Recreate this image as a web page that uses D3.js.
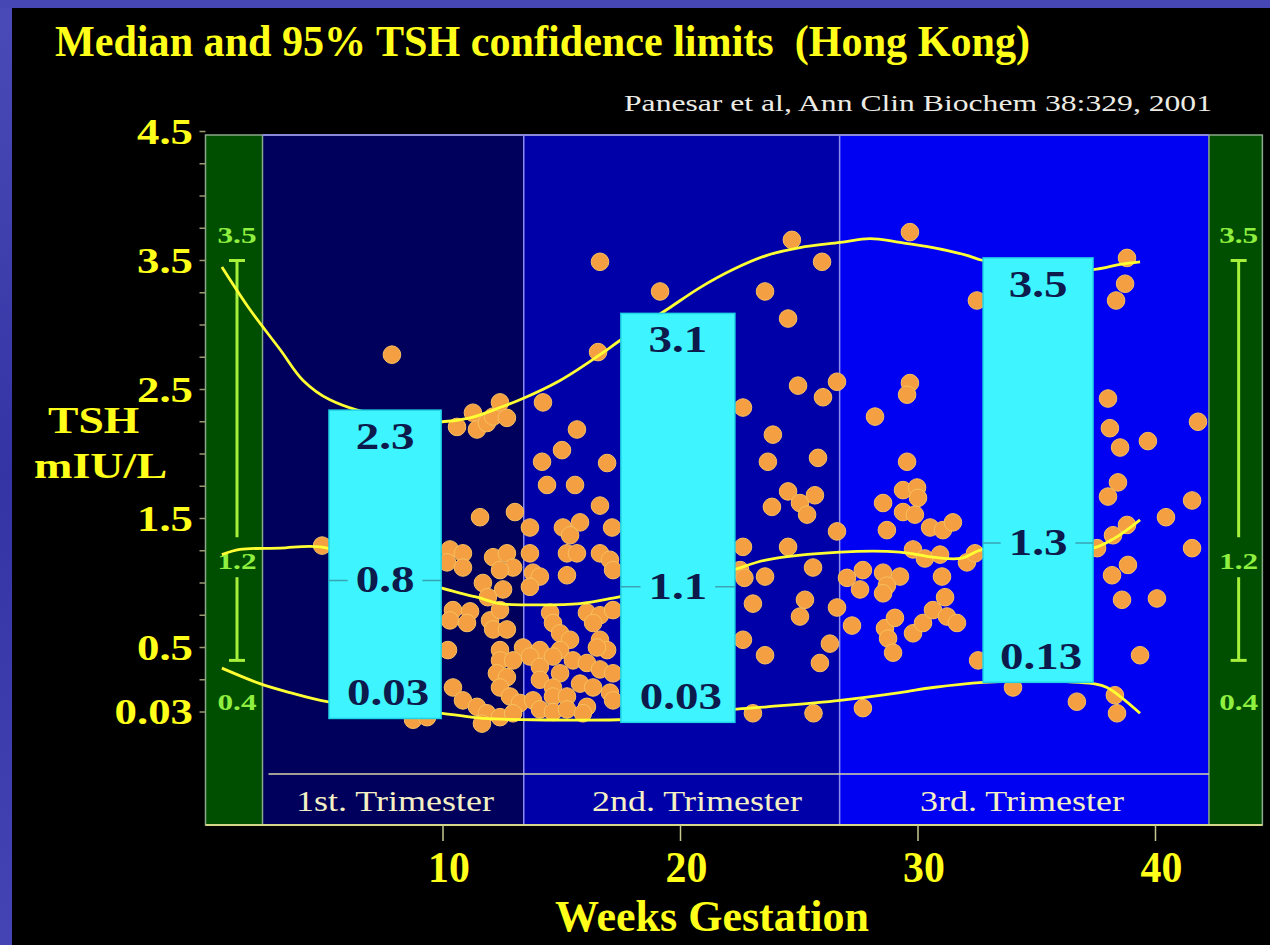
<!DOCTYPE html>
<html><head><meta charset="utf-8">
<script src="https://cdn.jsdelivr.net/npm/d3@7"></script>
<style>html,body{margin:0;padding:0;background:#000;} svg{display:block}</style>
</head><body>
<svg id="c" width="1270" height="945"></svg>
<script>
// ---------------- data ----------------
const titleText = "Median and 95% TSH confidence limits  (Hong Kong)";
const citationText = "Panesar et al, Ann Clin Biochem 38:329, 2001";
const yAxisTitle = ["TSH", "mIU/L"];
const xAxisTitle = "Weeks Gestation";
const yTickValues = [4.5, 3.5, 2.5, 1.5, 0.5, 0];
const yTickLabels = ["4.5", "3.5", "2.5", "1.5", "0.5", "0.03"];
const yMinorStep = 0.25;
const xTickValues = [10, 20, 30, 40];
const trimesterNames = ["1st. Trimester", "2nd. Trimester", "3rd. Trimester"];
const trimesterBounds = [2.4, 13.4, 26.7, 42.25];
const sideBarWeeks = [[0, 2.4], [42.25, 44.5]];
const refRange = [0.4, 1.2, 3.5];           // lower, median, upper (side bars)
const refLabels = ["0.4", "1.2", "3.5"];
const boxWeeks = [[5.2, 9.92], [17.49, 22.29], [32.74, 37.37]];
const boxLow = [-0.05, -0.08, 0.23];
const boxMid = [1.02, 0.97, 1.31];
const boxHigh = [2.34, 3.09, 3.52];
const boxLowLabel = ["0.03", "0.03", "0.13"];
const boxMidLabel = ["0.8", "1.1", "1.3"];
const boxHighLabel = ["2.3", "3.1", "3.5"];

const upperCurve = [[0.69,3.45],[1.87,3.12],[3.14,2.81],[4.11,2.57],[5.24,2.42],[7.77,2.28],[9.96,2.25],[11.14,2.28],[12.40,2.36],[13.24,2.42],[14.93,2.57],[16.61,2.77],[17.45,2.88],[19.43,3.12],[20.82,3.29],[22.21,3.43],[23.64,3.54],[25.03,3.60],[26.72,3.64],[27.98,3.67],[29.24,3.64],[30.63,3.60],[32.06,3.54],[32.74,3.50],[35.14,3.46],[37.37,3.43],[38.51,3.47],[39.35,3.49]];
const medianCurve = [[0.69,1.22],[1.45,1.26],[3.14,1.27],[4.82,1.28],[7.35,1.14],[9.96,0.96],[11.43,0.89],[12.40,0.84],[13.79,0.83],[15.77,0.84],[17.37,0.89],[19.98,0.98],[22.21,1.10],[23.64,1.18],[26.72,1.24],[29.24,1.24],[30.63,1.20],[31.79,1.19],[32.74,1.26],[35.14,1.26],[37.37,1.27],[38.30,1.35],[39.35,1.49]];
const lowerCurve = [[0.69,0.34],[2.29,0.22],[3.56,0.15],[5.12,0.08],[7.77,0.02],[9.96,-0.01],[11.68,-0.05],[13.79,-0.06],[17.37,-0.06],[19.98,-0.04],[22.21,0.02],[23.64,0.04],[26.72,0.09],[29.24,0.15],[30.63,0.19],[32.74,0.23],[35.14,0.24],[37.37,0.22],[37.96,0.19],[39.35,-0.01]];

const points = [
[4.91,1.29],[7.85,2.77],[8.74,-0.06],[9.33,-0.04],
[10.59,2.21],[11.26,2.32],[11.43,2.19],[11.85,2.24],[12.11,2.29],[12.40,2.40],[12.69,2.28],
[11.56,1.51],[13.03,1.55],[13.66,1.43],
[10.29,1.26],[10.84,1.23],[10.17,1.16],[10.84,1.12],[12.11,1.20],[12.69,1.23],[12.95,1.12],[12.40,1.10],[13.66,1.23],[13.79,1.08],[14.08,1.05],[13.66,0.97],
[15.22,1.23],[15.64,1.23],[16.61,1.23],[17.03,1.18],[17.16,1.10],
[11.68,1.00],[12.53,0.95],[11.89,0.89],[15.22,1.06],
[10.42,0.79],[11.14,0.78],[10.29,0.71],[11.01,0.69],[11.98,0.71],[12.11,0.64],[12.69,0.64],[12.40,0.79],
[14.51,0.77],[14.63,0.69],[16.06,0.77],[16.61,0.75],[16.32,0.69],[17.16,0.79],
[14.93,0.61],[15.35,0.56],[16.61,0.56],[16.91,0.48],[16.48,0.50],
[10.21,0.48],[12.40,0.48],[13.37,0.50],[14.08,0.48],[14.93,0.48],
[12.40,0.40],[12.95,0.40],[13.66,0.43],[14.63,0.43],[15.47,0.40],[16.06,0.38],
[12.27,0.30],[12.69,0.27],[14.08,0.35],[14.93,0.30],[16.61,0.33],[17.16,0.30],
[10.42,0.19],[12.40,0.19],[14.08,0.25],[14.63,0.19],[15.77,0.22],[16.32,0.19],[17.03,0.15],[17.16,0.09],
[10.84,0.09],[11.43,0.04],[12.82,0.12],[13.24,0.07],[13.79,0.09],[14.63,0.12],[15.22,0.12],[16.06,0.04],
[11.85,-0.01],[12.40,-0.04],[12.95,-0.01],[14.08,0.02],[14.63,0.00],[15.22,0.02],[15.89,-0.01],[11.64,-0.09],
[22.63,1.28],[22.51,1.10],[22.63,0.56],[23.05,0.84],[23.05,-0.01],
[14.21,2.40],[15.64,2.19],[15.01,2.03],[14.17,1.94],[16.91,1.93],[14.38,1.76],[15.56,1.76],[16.61,1.60],[15.05,1.43],[15.77,1.47],[17.12,1.43],[15.35,1.37],[16.61,3.49],[16.53,2.79],
[24.69,3.66],[25.96,3.49],[19.14,3.26],[23.56,3.26],[24.53,3.05],[29.66,3.72],[32.48,3.19],
[24.95,2.53],[26.59,2.56],[26.00,2.44],[29.66,2.55],[29.54,2.46],[22.63,2.36],[28.19,2.29],[23.89,2.15],
[23.68,1.94],[25.79,1.97],[29.54,1.94],
[24.53,1.71],[25.03,1.62],[25.66,1.68],[25.33,1.53],[23.85,1.59],
[28.53,1.62],[29.37,1.72],[29.96,1.74],[30.00,1.66],[29.37,1.55],[29.87,1.53],
[28.69,1.41],[30.51,1.43],[31.05,1.41],[31.47,1.47],[26.59,1.40],
[24.53,1.28],[29.79,1.26],[30.29,1.19],[30.93,1.22],[32.06,1.16],[32.40,1.23],
[25.58,1.12],[22.69,1.04],[23.56,1.05],[27.01,1.04],[27.68,1.10],[28.53,1.08],[29.24,1.05],[28.69,0.98],[31.01,1.05],
[27.56,0.95],[28.53,0.92],[25.24,0.87],[26.59,0.81],[31.14,0.89],
[25.03,0.74],[27.22,0.67],[28.61,0.65],[29.03,0.73],[29.79,0.61],[30.21,0.69],[30.63,0.79],[31.22,0.74],[31.64,0.69],
[28.74,0.57],[26.29,0.53],[28.95,0.46],[23.56,0.44],[25.87,0.38],[25.60,-0.01],[27.68,0.03],
[38.80,3.52],[38.72,3.32],[38.34,3.19],[38.00,2.43],[38.08,2.20],[38.51,2.05],[39.68,2.10],[41.79,2.25],
[38.42,1.78],[38.00,1.67],[40.44,1.51],[41.54,1.64],[38.80,1.45],[38.21,1.37],[41.54,1.27],[37.54,1.27],
[38.17,1.06],[38.84,1.14],[38.59,0.87],[40.06,0.88],[39.35,0.44],[38.29,0.13],[38.38,-0.01],[36.69,0.08],[34.00,0.19],[32.53,0.40]
];

// ---------------- drawing ----------------
const svg = d3.select("#c");
const serif = "'Liberation Serif','Times New Roman',serif";
const x = d3.scaleLinear().domain([10, 40]).range([443, 1155.5]);
const y = d3.scaleLinear().domain([0, 4.5]).range([712, 131.5]);
const plotTop = 135, plotBottom = 825, bandTop = 774;

function stretch(sel, k) {
  sel.each(function () {
    const w = this.getComputedTextLength();
    this.setAttribute("textLength", w * k);
    this.setAttribute("lengthAdjust", "spacingAndGlyphs");
  });
  return sel;
}

// slide background
svg.append("rect").attr("width", 1270).attr("height", 945).attr("fill", "#000");
const grad = svg.append("defs").append("linearGradient").attr("id", "frame").attr("x1", 0).attr("y1", 0).attr("x2", 0).attr("y2", 1);
grad.append("stop").attr("offset", "0%").attr("stop-color", "#4a4ab8");
grad.append("stop").attr("offset", "50%").attr("stop-color", "#3434a4");
grad.append("stop").attr("offset", "100%").attr("stop-color", "#4444b4");
svg.append("rect").attr("x", 0).attr("y", 0).attr("width", 12).attr("height", 945).attr("fill", "url(#frame)");
svg.append("rect").attr("x", 0).attr("y", 0).attr("width", 1270).attr("height", 8).attr("fill", "#4646b4");

// title & citation
svg.append("text").attr("x", 55).attr("y", 56).attr("font-family", serif).attr("font-weight", "bold")
  .attr("font-size", 44).attr("fill", "#ffff1a").style("white-space", "pre")
  .attr("textLength", 975).attr("lengthAdjust", "spacingAndGlyphs")
  .text(titleText);
svg.append("text").attr("x", 624).attr("y", 111).attr("font-family", serif)
  .attr("font-size", 24).attr("fill", "#ecece4").attr("textLength", 588).attr("lengthAdjust", "spacingAndGlyphs")
  .text(citationText);

// trimester backgrounds
const triColors = ["#00005c", "#0000a8", "#0000f2"];
svg.append("g").selectAll("rect").data(trimesterNames).join("rect")
  .attr("x", (d, i) => x(trimesterBounds[i]))
  .attr("width", (d, i) => x(trimesterBounds[i + 1]) - x(trimesterBounds[i]))
  .attr("y", plotTop).attr("height", plotBottom - plotTop)
  .attr("fill", (d, i) => triColors[i]);

// green side bars
svg.append("g").selectAll("rect").data(sideBarWeeks).join("rect")
  .attr("x", d => x(d[0])).attr("width", d => x(d[1]) - x(d[0]))
  .attr("y", plotTop).attr("height", plotBottom - plotTop)
  .attr("fill", "#004f00").attr("stroke", "#8aa88a").attr("stroke-width", 1.5);

// top border
svg.append("line").attr("x1", x(trimesterBounds[0])).attr("x2", x(trimesterBounds[3]))
  .attr("y1", plotTop).attr("y2", plotTop).attr("stroke", "#8a8ad8").attr("stroke-width", 2);

// trimester dividers
svg.append("g").selectAll("line").data(trimesterBounds.slice(1, 3)).join("line")
  .attr("x1", d => x(d)).attr("x2", d => x(d)).attr("y1", plotTop).attr("y2", plotBottom)
  .attr("stroke", "#8c8cf0").attr("stroke-width", 1.5);

// band line
svg.append("line").attr("x1", x(trimesterBounds[0]) + 6).attr("x2", x(trimesterBounds[3]))
  .attr("y1", bandTop).attr("y2", bandTop).attr("stroke", "#d4d4a8").attr("stroke-width", 1.5);

// trimester labels
const triLabelX = [395, 697, 1022];
stretch(svg.append("g").selectAll("text").data(trimesterNames).join("text")
  .attr("x", (d, i) => triLabelX[i]).attr("y", 811).attr("text-anchor", "middle")
  .attr("font-family", serif).attr("font-size", 30).attr("fill", "#f4f0c4").text(d => d), 1.2);

// side reference bars
sideBarWeeks.forEach(b => {
  const cx = (x(b[0]) + x(b[1])) / 2 + 3;
  const g = svg.append("g").attr("stroke", "#a6f03c").attr("stroke-width", 3);
  g.append("line").attr("x1", cx).attr("x2", cx).attr("y1", y(refRange[2])).attr("y2", y(refRange[1]) - 20);
  g.append("line").attr("x1", cx).attr("x2", cx).attr("y1", y(refRange[1]) + 20).attr("y2", y(refRange[0]));
  g.append("line").attr("x1", cx - 8).attr("x2", cx + 8).attr("y1", y(refRange[2])).attr("y2", y(refRange[2]));
  g.append("line").attr("x1", cx - 8).attr("x2", cx + 8).attr("y1", y(refRange[0])).attr("y2", y(refRange[0]));
  const labelY = [y(refRange[0]) + 50, y(refRange[1]) + 12, y(refRange[2]) - 18];
  stretch(svg.append("g").selectAll("text").data(refLabels).join("text")
    .attr("x", cx).attr("y", (d, i) => labelY[i]).attr("text-anchor", "middle")
    .attr("font-family", serif).attr("font-weight", "bold").attr("font-size", 24)
    .attr("fill", "#90f040").text(d => d), 1.3);
});

// bottom axis line & ticks
svg.append("line").attr("x1", x(sideBarWeeks[0][0])).attr("x2", x(sideBarWeeks[1][1]))
  .attr("y1", plotBottom).attr("y2", plotBottom).attr("stroke", "#d6d68a").attr("stroke-width", 2);
svg.append("g").selectAll("line").data(xTickValues).join("line")
  .attr("x1", d => x(d)).attr("x2", d => x(d)).attr("y1", plotBottom).attr("y2", plotBottom + 16)
  .attr("stroke", "#c8c890").attr("stroke-width", 1.5);
stretch(svg.append("g").selectAll("text").data(xTickValues).join("text")
  .attr("x", d => x(d) + 6).attr("y", 882).attr("text-anchor", "middle")
  .attr("font-family", serif).attr("font-weight", "bold").attr("font-size", 44)
  .attr("fill", "#ffff1a").text(d => d), 0.95);
svg.append("text").attr("x", 712).attr("y", 931).attr("text-anchor", "middle")
  .attr("font-family", serif).attr("font-weight", "bold").attr("font-size", 44)
  .attr("fill", "#ffff1a").text(xAxisTitle);

// y ticks
const minor = d3.range(0, 4.5 + 1e-9, yMinorStep);
svg.append("g").selectAll("line").data(minor).join("line")
  .attr("x1", x(0) - 6).attr("x2", x(0)).attr("y1", d => y(d)).attr("y2", d => y(d))
  .attr("stroke", "#9a9a70").attr("stroke-width", 1.5);
stretch(svg.append("g").selectAll("text").data(yTickValues).join("text")
  .attr("x", 193).attr("y", d => y(d) + 12).attr("text-anchor", "end")
  .attr("font-family", serif).attr("font-weight", "bold").attr("font-size", 35)
  .attr("fill", "#ffff1a").text((d, i) => yTickLabels[i]), 1.28);
stretch(svg.append("text").attr("x", 48).attr("y", 433).attr("font-family", serif).attr("font-weight", "bold")
  .attr("font-size", 38).attr("fill", "#ffff1a").text(yAxisTitle[0]), 1.2);
stretch(svg.append("text").attr("x", 34).attr("y", 478).attr("font-family", serif).attr("font-weight", "bold")
  .attr("font-size", 36).attr("fill", "#ffff1a").text(yAxisTitle[1]), 1.28);

// scatter
svg.append("g").selectAll("circle").data(points).join("circle")
  .attr("cx", d => x(d[0])).attr("cy", d => y(d[1])).attr("r", 8.8)
  .attr("fill", "#f4a042").attr("stroke", "#f8c060").attr("stroke-width", 1);

// curves
const line = d3.line().x(d => x(d[0])).y(d => y(d[1])).curve(d3.curveCatmullRom.alpha(0.5));
svg.append("g").selectAll("path").data([upperCurve, medianCurve, lowerCurve]).join("path")
  .attr("d", line).attr("fill", "none").attr("stroke", "#ffff33").attr("stroke-width", 2.8);

// boxes
boxWeeks.forEach((bw, i) => {
  const x0 = x(bw[0]), x1 = x(bw[1]), cx = (x0 + x1) / 2;
  const g = svg.append("g");
  g.append("rect").attr("x", x0).attr("y", y(boxHigh[i])).attr("width", x1 - x0)
    .attr("height", y(boxLow[i]) - y(boxHigh[i])).attr("fill", "#3ef4ff")
    .attr("stroke", "#22d4e6").attr("stroke-width", 1.5);
  g.append("line").attr("x1", x0).attr("x2", x1).attr("y1", y(boxMid[i])).attr("y2", y(boxMid[i]))
    .attr("stroke", "#3aa4b4").attr("stroke-width", 1.5);
  const mt = g.append("text").attr("x", cx).attr("y", y(boxMid[i]) + 12).attr("text-anchor", "middle")
    .attr("font-family", serif).attr("font-weight", "bold").attr("font-size", 37)
    .attr("fill", "#0c1a4c").text(boxMidLabel[i]);
  stretch(mt, 1.27);
  const bb = mt.node().getBBox();
  g.insert("rect", "text").attr("x", bb.x - 8).attr("y", bb.y).attr("width", bb.width + 16)
    .attr("height", bb.height).attr("fill", "#3ef4ff");
  stretch(g.append("text").attr("x", cx).attr("y", y(boxHigh[i]) + 39).attr("text-anchor", "middle")
    .attr("font-family", serif).attr("font-weight", "bold").attr("font-size", 37)
    .attr("fill", "#0c1a4c").text(boxHighLabel[i]), 1.27);
  stretch(g.append("text").attr("x", cx + 3).attr("y", y(boxLow[i]) - 13).attr("text-anchor", "middle")
    .attr("font-family", serif).attr("font-weight", "bold").attr("font-size", 37)
    .attr("fill", "#0c1a4c").text(boxLowLabel[i]), 1.27);
});
</script>
</body></html>
